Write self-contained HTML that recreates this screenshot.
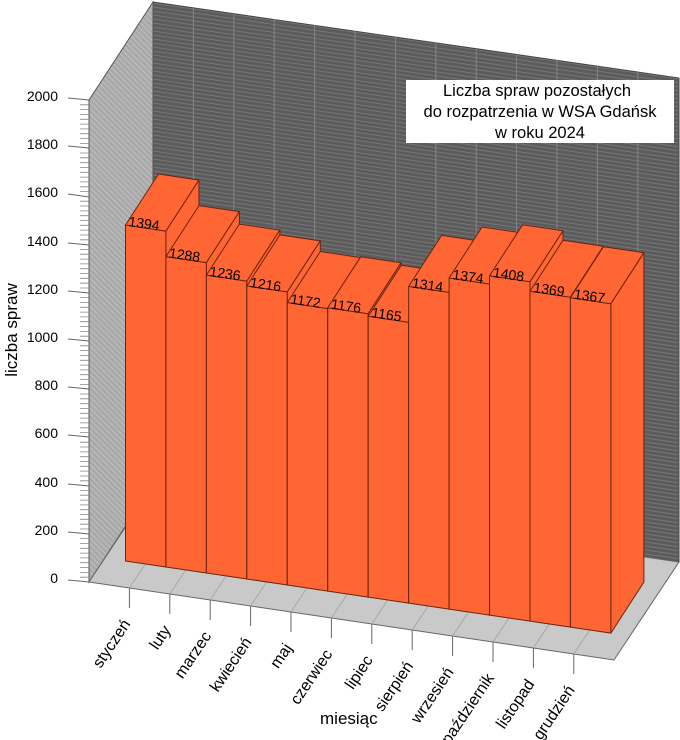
<!DOCTYPE html>
<html><head><meta charset="utf-8"><style>
html,body{margin:0;padding:0;background:#fff;}
svg{display:block;font-family:"Liberation Sans",sans-serif;}
</style></head><body>
<svg width="680" height="740" viewBox="0 0 680 740" xmlns="http://www.w3.org/2000/svg">
<defs>
<pattern id="bw" width="8" height="4" patternUnits="userSpaceOnUse" patternTransform="skewY(8.2)">
<rect width="8" height="4" fill="#5c5c5c"/><line x1="0" y1="1" x2="8" y2="1" stroke="#767676" stroke-width="1"/>
</pattern>
<pattern id="lw" width="4" height="4" patternUnits="userSpaceOnUse" patternTransform="rotate(45)">
<rect width="4" height="4" fill="#a9a9a9"/><line x1="0" y1="1" x2="4" y2="1" stroke="#c0c0c0" stroke-width="1"/>
</pattern>
</defs>
<polygon points="153,2 679,78 679,562 153,484" fill="url(#bw)" stroke="#444" stroke-width="1"/>
<g stroke="#858585" stroke-width="1">
<line x1="193.4" y1="8" x2="193.4" y2="490"/><line x1="233.8" y1="14" x2="233.8" y2="496"/>
<line x1="274.2" y1="19" x2="274.2" y2="502"/><line x1="314.6" y1="25" x2="314.6" y2="508"/>
<line x1="355" y1="31" x2="355" y2="514"/><line x1="395.4" y1="37" x2="395.4" y2="520"/>
<line x1="435.8" y1="43" x2="435.8" y2="526"/><line x1="476.2" y1="49" x2="476.2" y2="532"/>
<line x1="516.6" y1="55" x2="516.6" y2="538"/><line x1="557" y1="60" x2="557" y2="544"/>
<line x1="597.4" y1="66" x2="597.4" y2="550"/><line x1="637.8" y1="72" x2="637.8" y2="556"/>
</g>
<polygon points="89,100 153,2 153,484 89,582" fill="url(#lw)" stroke="#555" stroke-width="1"/>
<polygon points="89,582 614,660 679,562 154,484" fill="#c9c9c9" stroke="#666" stroke-width="1"/>
<g stroke="#a8a8a8" stroke-width="1">
<line x1="129.4" y1="588" x2="194.4" y2="490"/><line x1="169.8" y1="594" x2="234.8" y2="496"/>
<line x1="210.2" y1="600" x2="275.2" y2="502"/><line x1="250.6" y1="606" x2="315.6" y2="508"/>
<line x1="291" y1="612" x2="356" y2="514"/><line x1="331.4" y1="618" x2="396.4" y2="520"/>
<line x1="371.8" y1="624" x2="436.8" y2="526"/><line x1="412.2" y1="630" x2="477.2" y2="532"/>
<line x1="452.6" y1="636" x2="517.6" y2="538"/><line x1="493" y1="642" x2="558" y2="544"/>
<line x1="533.4" y1="648" x2="598.4" y2="550"/><line x1="573.8" y1="654" x2="638.8" y2="556"/>
</g>
<g stroke="#666" stroke-width="1">
<line x1="129.4" y1="588" x2="129.4" y2="608"/><line x1="169.8" y1="594" x2="169.8" y2="614"/>
<line x1="210.2" y1="600" x2="210.2" y2="620"/><line x1="250.6" y1="606" x2="250.6" y2="626"/>
<line x1="291" y1="612" x2="291" y2="632"/><line x1="331.4" y1="618" x2="331.4" y2="638"/>
<line x1="371.8" y1="624" x2="371.8" y2="644"/><line x1="412.2" y1="630" x2="412.2" y2="650"/>
<line x1="452.6" y1="636" x2="452.6" y2="656"/><line x1="493" y1="642" x2="493" y2="662"/>
<line x1="533.4" y1="648" x2="533.4" y2="668"/><line x1="573.8" y1="654" x2="573.8" y2="674"/>
</g>
<g stroke="#666" stroke-width="1">
<line x1="68" y1="98" x2="89" y2="100"/><line x1="68" y1="146" x2="89" y2="148"/>
<line x1="68" y1="194" x2="89" y2="197"/><line x1="68" y1="243" x2="89" y2="245"/>
<line x1="68" y1="291" x2="89" y2="293"/><line x1="68" y1="339" x2="89" y2="341"/>
<line x1="68" y1="387" x2="89" y2="389"/><line x1="68" y1="435" x2="89" y2="437"/>
<line x1="68" y1="484" x2="89" y2="486"/><line x1="68" y1="532" x2="89" y2="534"/>
<line x1="68" y1="580" x2="89" y2="582"/>
</g>
<path d="M80 104.8h9M80 109.6h9M80 114.5h9M80 119.3h9M80 124.1h9M80 128.9h9M80 133.7h9M80 138.6h9M80 143.4h9" stroke="#888" stroke-width="0.8" id="m0"/>
<use href="#m0" y="48.2"/><use href="#m0" y="96.4"/><use href="#m0" y="144.6"/><use href="#m0" y="192.8"/>
<use href="#m0" y="241"/><use href="#m0" y="289.2"/><use href="#m0" y="337.4"/><use href="#m0" y="385.6"/><use href="#m0" y="433.8"/>
<g font-size="14" fill="#000" text-anchor="end">
<text x="58" y="101">2000</text><text x="58" y="149">1800</text><text x="58" y="197">1600</text>
<text x="58" y="246">1400</text><text x="58" y="294">1200</text><text x="58" y="342">1000</text>
<text x="58" y="390">800</text><text x="58" y="438">600</text><text x="58" y="487">400</text>
<text x="58" y="535">200</text><text x="58" y="583">0</text>
</g>
<g fill="#ff6633" stroke="#6b2410" stroke-width="1" stroke-linejoin="round">
<polygon points="125.5,225 165.95,231.1 165.95,567 125.5,561"/><polygon points="125.5,225 158.5,174 198.95,180.1 165.95,231.1"/><polygon points="165.95,231.1 198.95,180.1 198.95,516 165.95,567"/>
<polygon points="165.95,256.6 206.4,262.6 206.4,573 165.95,567"/><polygon points="165.95,256.6 198.95,205.6 239.4,211.6 206.4,262.6"/><polygon points="206.4,262.6 239.4,211.6 239.4,522 206.4,573"/>
<polygon points="206.4,275.1 246.85,281.1 246.85,579 206.4,573"/><polygon points="206.4,275.1 239.4,224.1 279.85,230.1 246.85,281.1"/><polygon points="246.85,281.1 279.85,230.1 279.85,528 246.85,579"/>
<polygon points="246.85,285.9 287.3,291.9 287.3,585 246.85,579"/><polygon points="246.85,285.9 279.85,234.9 320.3,240.9 287.3,291.9"/><polygon points="287.3,291.9 320.3,240.9 320.3,534 287.3,585"/>
<polygon points="287.3,302.5 327.75,308.6 327.75,591.1 287.3,585"/><polygon points="287.3,302.5 320.3,251.5 360.75,257.6 327.75,308.6"/><polygon points="327.75,308.6 360.75,257.6 360.75,540.1 327.75,591.1"/>
<polygon points="327.75,307.7 368.2,313.7 368.2,597.1 327.75,591.1"/><polygon points="327.75,307.7 360.75,256.7 401.2,262.7 368.2,313.7"/><polygon points="368.2,313.7 401.2,262.7 401.2,546.1 368.2,597.1"/>
<polygon points="368.2,316.3 408.65,322.3 408.65,603.1 368.2,597.1"/><polygon points="368.2,316.3 401.2,265.3 441.65,271.3 408.65,322.3"/><polygon points="408.65,322.3 441.65,271.3 441.65,552.1 408.65,603.1"/>
<polygon points="408.65,286.4 449.1,292.4 449.1,609.1 408.65,603.1"/><polygon points="408.65,286.4 441.65,235.4 482.1,241.4 449.1,292.4"/><polygon points="449.1,292.4 482.1,241.4 482.1,558.1 449.1,609.1"/>
<polygon points="449.1,278 489.55,284 489.55,615.1 449.1,609.1"/><polygon points="449.1,278 482.1,227 522.55,233 489.55,284"/><polygon points="489.55,284 522.55,233 522.55,564.1 489.55,615.1"/>
<polygon points="489.55,275.8 530,281.8 530,621.1 489.55,615.1"/><polygon points="489.55,275.8 522.55,224.8 563,230.8 530,281.8"/><polygon points="530,281.8 563,230.8 563,570.1 530,621.1"/>
<polygon points="530,291.2 570.45,297.2 570.45,627.1 530,621.1"/><polygon points="530,291.2 563,240.2 603.45,246.2 570.45,297.2"/><polygon points="570.45,297.2 603.45,246.2 603.45,576.1 570.45,627.1"/>
<polygon points="570.45,297.7 610.9,303.7 610.9,633.1 570.45,627.1"/><polygon points="570.45,297.7 603.45,246.7 643.9,252.7 610.9,303.7"/><polygon points="610.9,303.7 643.9,252.7 643.9,582.1 610.9,633.1"/>
</g>
<g font-size="14" fill="#000">
<text transform="translate(128,226) rotate(8.45)">1394</text>
<text transform="translate(168.5,257.5) rotate(8.45)">1288</text>
<text transform="translate(209,276) rotate(8.45)">1236</text>
<text transform="translate(249.5,287) rotate(8.45)">1216</text>
<text transform="translate(290,303.5) rotate(8.45)">1172</text>
<text transform="translate(330.5,308.5) rotate(8.45)">1176</text>
<text transform="translate(371,317) rotate(8.45)">1165</text>
<text transform="translate(411.5,287.5) rotate(8.45)">1314</text>
<text transform="translate(452,279) rotate(8.45)">1374</text>
<text transform="translate(492.5,277) rotate(8.45)">1408</text>
<text transform="translate(533,292) rotate(8.45)">1369</text>
<text transform="translate(573.5,298.5) rotate(8.45)">1367</text>
</g>
<g font-size="16" fill="#000" text-anchor="end">
<text transform="translate(131,624) rotate(-56)">styczeń</text>
<text transform="translate(171.4,630) rotate(-56)">luty</text>
<text transform="translate(211.8,636) rotate(-56)">marzec</text>
<text transform="translate(252.2,642) rotate(-56)">kwiecień</text>
<text transform="translate(292.6,648) rotate(-56)">maj</text>
<text transform="translate(333,654) rotate(-56)">czerwiec</text>
<text transform="translate(373.4,660) rotate(-56)">lipiec</text>
<text transform="translate(413.8,666) rotate(-56)">sierpień</text>
<text transform="translate(454.2,672) rotate(-56)">wrzesień</text>
<text transform="translate(494.6,678) rotate(-56)">październik</text>
<text transform="translate(535,684) rotate(-56)">listopad</text>
<text transform="translate(575.4,690) rotate(-56)">grudzień</text>
</g>
<text x="320" y="724" font-size="17" fill="#000">miesiąc</text>
<text transform="translate(17,330) rotate(-90)" font-size="17" fill="#000" text-anchor="middle">liczba spraw</text>
<rect x="406" y="80" width="268" height="63" fill="#fff"/>
<g font-size="16.5" fill="#000" text-anchor="middle">
<text x="537" y="96">Liczba spraw pozostałych</text>
<text x="540" y="117">do rozpatrzenia w  WSA Gdańsk</text>
<text x="540" y="138">w roku 2024</text>
</g>
</svg>
</body></html>
